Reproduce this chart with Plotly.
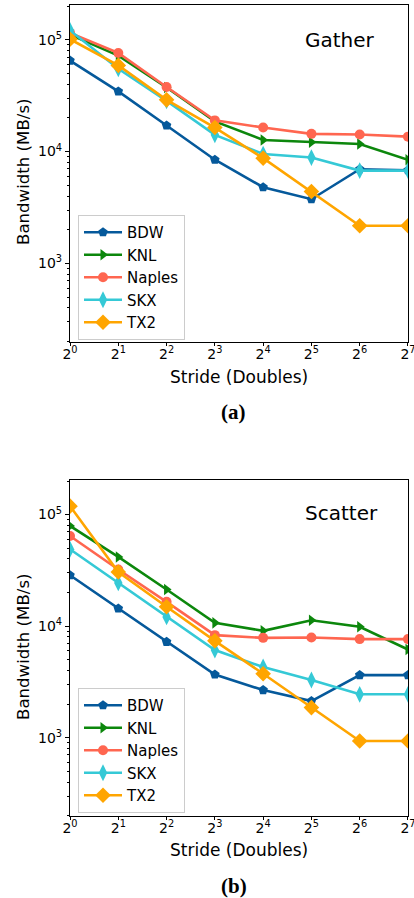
import plotly.graph_objects as go
import math

strides = [1, 2, 4, 8, 16, 32, 64, 128]
series_names = ["BDW", "KNL", "Naples", "SKX", "TX2"]

gather_bdw = [65000, 34500, 17100, 8450, 4800, 3750, 6950, 6800]
gather_knl = [111000, 72000, 37400, 18600, 12700, 12100, 11700, 8450]
gather_naples = [115000, 76000, 37800, 19000, 16400, 14400, 14200, 13600]
gather_skx = [121000, 55000, 28400, 14100, 9500, 8840, 6760, 6760]
gather_tx2 = [101000, 58900, 29000, 16400, 8730, 4390, 2170, 2170]

scatter_bdw = [28600, 14400, 7230, 3680, 2670, 2130, 3640, 3640]
scatter_knl = [79100, 41700, 21300, 10700, 9080, 11300, 9860, 6180]
scatter_naples = [64300, 32200, 16500, 8300, 7850, 7900, 7650, 7650]
scatter_skx = [48900, 24400, 12100, 6100, 4300, 3290, 2450, 2450]
scatter_tx2 = [119000, 30600, 14900, 7380, 3740, 1860, 934, 934]

x_tick_text = ["2<sup>%d</sup>" % k for k in range(8)]
y_tick_vals = [1000, 10000, 100000]
y_tick_text = ["10<sup>3</sup>", "10<sup>4</sup>", "10<sup>5</sup>"]

colors = ["#05599b", "#0c870c", "#ff6650", "#35c9d6", "#ffa500"]
symbols = ["pentagon", "triangle-right", "circle", "diamond-tall", "diamond"]
msizes = [10, 10, 10, 12, 12]

gather = [gather_bdw, gather_knl, gather_naples, gather_skx, gather_tx2]
scatter = [scatter_bdw, scatter_knl, scatter_naples, scatter_skx, scatter_tx2]

W, H = 414, 898
def px2x(p):
    return p / W
def px2y(p):
    return 1 - p / H

fig = go.Figure()
for i, name in enumerate(series_names):
    fig.add_trace(go.Scatter(
        x=strides, y=gather[i], name=name, mode="lines+markers",
        line=dict(color=colors[i], width=2.6),
        marker=dict(symbol=symbols[i], size=msizes[i], color=colors[i], line=dict(width=0)),
        xaxis="x", yaxis="y", legend="legend"))
for i, name in enumerate(series_names):
    fig.add_trace(go.Scatter(
        x=strides, y=scatter[i], name=name, mode="lines+markers",
        line=dict(color=colors[i], width=2.6),
        marker=dict(symbol=symbols[i], size=msizes[i], color=colors[i], line=dict(width=0)),
        xaxis="x2", yaxis="y2", legend="legend2"))

minor_vals = []
for d in [100, 1000, 10000, 100000]:
    for m in range(2, 10):
        minor_vals.append(d * m)

tickfont = dict(family="DejaVu Sans", size=14, color="black")
xcommon = dict(type="log", range=[-0.0001, math.log10(128) + 0.0001], tickvals=strides, ticktext=x_tick_text,
               ticks="outside", ticklen=3, tickcolor="black", showline=True, linecolor="black",
               linewidth=1.2, mirror=True, showgrid=False, zeroline=False, tickfont=tickfont,
               ticklabeloverflow="allow", ticklabelstandoff=-4,
               automargin=False, domain=[px2x(70), px2x(408)])
ycommon = dict(type="log", range=[2.298, 5.31], tickvals=y_tick_vals, ticktext=y_tick_text,
               ticks="outside", ticklen=4, tickcolor="black", showline=True, linecolor="black",
               linewidth=1.2, mirror=True, showgrid=False, zeroline=False, tickfont=tickfont,
               ticklabeloverflow="allow", automargin=False,
               minor=dict(tickvals=minor_vals, ticks="outside", ticklen=2, tickcolor="black", showgrid=False))

legfont = dict(family="DejaVu Sans", size=15, color="black")
fig.update_layout(
    width=W, height=H,
    margin=dict(l=0, r=0, t=0, b=0),
    paper_bgcolor="white", plot_bgcolor="white",
    font=dict(family="DejaVu Sans", color="black"),
    xaxis=dict(xcommon, anchor="y"),
    yaxis=dict(ycommon, anchor="x", domain=[px2y(342), px2y(5)]),
    xaxis2=dict(xcommon, anchor="y2"),
    yaxis2=dict(ycommon, anchor="x2", domain=[px2y(816), px2y(480)]),
    legend=dict(x=px2x(78), y=px2y(215), xanchor="left", yanchor="top",
                bordercolor="#cccccc", borderwidth=1, bgcolor="rgba(255,255,255,0.8)",
                font=legfont, itemwidth=38),
    legend2=dict(x=px2x(78), y=px2y(688), xanchor="left", yanchor="top",
                 bordercolor="#cccccc", borderwidth=1, bgcolor="rgba(255,255,255,0.8)",
                 font=legfont, itemwidth=38),
)

def note(text, xp, yp, size, family="DejaVu Sans", angle=0):
    return dict(text=text, x=px2x(xp), y=px2y(yp), xref="paper", yref="paper",
                xanchor="center", yanchor="middle", textangle=angle,
                showarrow=False, font=dict(family=family, size=size, color="black"))

ann = [
    note("Gather", 340, 40, 20),
    note("Scatter", 341, 513, 20),
    note("Stride (Doubles)", 239, 377, 17),
    note("Stride (Doubles)", 239, 850, 17),
    note("Bandwidth (MB/s)", 23, 172, 16.6, angle=-90),
    note("Bandwidth (MB/s)", 23, 647, 16.6, angle=-90),
    note("<b>(a)</b>", 234, 412, 21, family="Liberation Serif"),
    note("<b>(b)</b>", 234, 886, 21, family="Liberation Serif"),
]
fig.update_layout(annotations=ann)

fig.write_html("out.html")
